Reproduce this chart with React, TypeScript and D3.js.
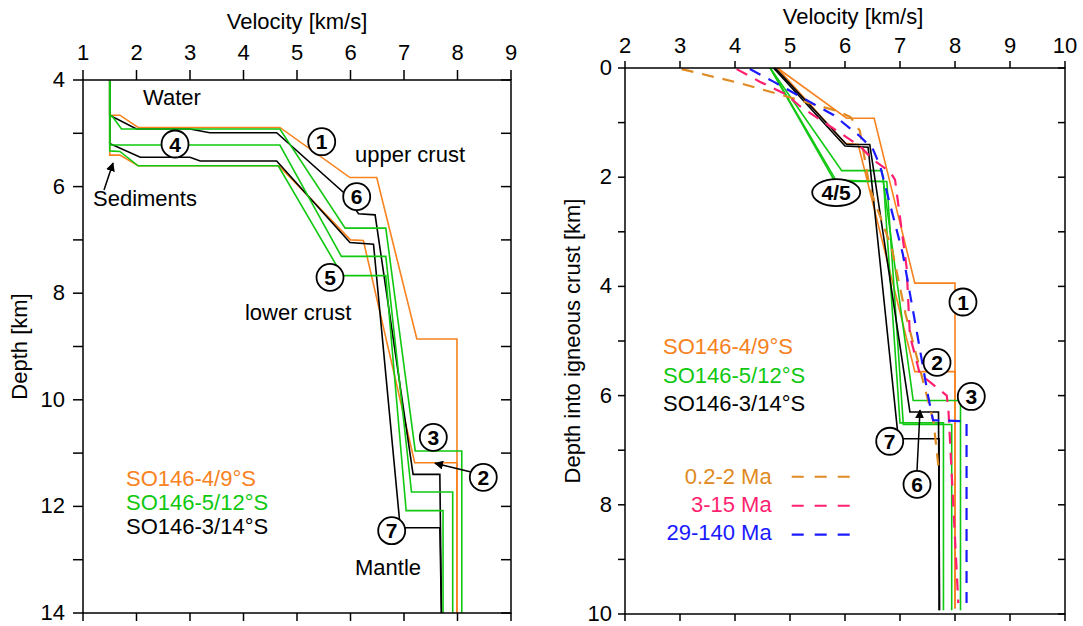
import React from 'react';
import * as d3 from 'd3';

type P = [number, number];

// ---------- Left panel: velocity (km/s) vs depth below sea level (km)
const leftVelTicks = [1, 2, 3, 4, 5, 6, 7, 8, 9];
const leftDepthTicks = [4, 6, 8, 10, 12, 14];
const leftDepthAllTicks = [4, 5, 6, 7, 8, 9, 10, 11, 12, 13, 14];

const leftOrangeA: P[] = [[1.5, 4], [1.5, 4.66], [1.69, 4.66], [2.03, 4.89], [4.68, 4.89], [5.99, 5.83], [6.49, 5.83], [7.24, 8.86], [7.99, 8.86], [7.99, 14]];
const leftOrangeB: P[] = [[1.5, 4], [1.5, 5.41], [1.69, 5.41], [2.03, 5.61], [4.66, 5.61], [6.0, 7.0], [6.24, 7.01], [7.2, 11.18], [7.99, 11.18], [7.99, 14]];
const leftGreenA: P[] = [[1.5, 4], [1.5, 4.67], [1.54, 4.67], [1.72, 4.92], [4.68, 4.92], [5.9, 6.78], [6.66, 6.78], [7.21, 10.96], [8.08, 10.96], [8.08, 14]];
const leftGreenB: P[] = [[1.5, 4], [1.5, 5.22], [4.68, 5.22], [5.83, 7.31], [6.66, 7.31], [7.14, 11.73], [7.91, 11.73], [7.91, 14]];
const leftGreenC: P[] = [[1.5, 4], [1.5, 5.33], [1.69, 5.34], [2.03, 5.61], [4.65, 5.61], [5.85, 7.67], [6.66, 7.67], [7.04, 12.08], [7.73, 12.08], [7.73, 14]];
const leftBlackA: P[] = [[1.5, 4], [1.5, 4.67], [1.52, 4.67], [2.0, 4.92], [3.0, 4.92], [3.37, 4.99], [4.62, 4.99], [5.87, 6.11], [6.15, 6.51], [6.46, 6.53], [7.17, 11.4], [7.67, 11.4], [7.7, 14]];
const leftBlackB: P[] = [[1.5, 4], [1.5, 5.2], [1.52, 5.2], [2.07, 5.45], [3.0, 5.45], [3.19, 5.52], [4.62, 5.52], [5.99, 7.05], [6.43, 7.08], [6.93, 12.4], [7.67, 12.4], [7.7, 14]];

// ---------- Right panel: velocity (km/s) vs depth into igneous crust (km)
const rightVelTicks = [2, 3, 4, 5, 6, 7, 8, 9, 10];
const rightDepthTicks = [0, 2, 4, 6, 8, 10];
const rightDepthAllTicks = [0, 1, 2, 3, 4, 5, 6, 7, 8, 9, 10];

const rightOrangeA: P[] = [[4.77, 0], [6.03, 0.92], [6.53, 0.92], [7.27, 3.94], [8.0, 3.94], [8.0, 9.9]];
const rightOrangeB: P[] = [[4.77, 0], [6.0, 1.38], [6.24, 1.4], [7.27, 5.56], [8.0, 5.56], [8.0, 9.9]];
const rightGreenA: P[] = [[4.64, 0], [5.94, 1.88], [6.67, 1.88], [7.24, 6.09], [8.1, 6.09], [8.1, 9.93]];
const rightGreenB: P[] = [[4.64, 0], [5.85, 2.08], [6.76, 2.08], [7.06, 6.53], [7.94, 6.53], [7.94, 9.93]];
const rightGreenC: P[] = [[4.64, 0], [5.8, 2.05], [6.7, 2.08], [7.0, 6.5], [7.79, 6.5], [7.79, 9.93]];
const rightBlackA: P[] = [[4.73, 0], [6.03, 1.4], [6.45, 1.4], [7.18, 6.3], [7.7, 6.3], [7.72, 9.93]];
const rightBlackB: P[] = [[4.7, 0], [6.0, 1.43], [6.42, 1.45], [6.97, 6.79], [7.71, 6.79], [7.71, 9.93]];

const age02to2: P[] = [[3.03, 0.02], [4.1, 0.28], [5.9, 0.8], [6.1, 0.9], [6.27, 1.15], [6.45, 2.2], [6.85, 3.3], [7.1, 4.5], [7.39, 5.62], [7.61, 6.48], [7.71, 7.4]];
const age3to15: P[] = [[4.03, 0.02], [4.45, 0.25], [4.94, 0.49], [5.18, 0.7], [6.27, 1.43], [6.51, 1.68], [6.82, 1.9], [6.91, 2.05], [7.12, 3.65], [7.18, 4.9], [7.36, 5.6], [7.85, 6.0], [7.88, 6.25], [8.06, 9.8]];
const age29to140: P[] = [[4.27, 0.02], [4.7, 0.25], [5.18, 0.52], [5.79, 0.86], [6.27, 1.25], [6.51, 1.49], [6.64, 1.8], [7.05, 3.4], [7.3, 4.8], [7.51, 6.0], [7.6, 6.45], [8.21, 6.47], [8.21, 9.8]];

const profileNames = ['SO146-4/9°S', 'SO146-5/12°S', 'SO146-3/14°S'];
const ageNames = ['0.2-2 Ma', '3-15 Ma', '29-140 Ma'];

const ORANGE = '#f7821e';
const GREEN = '#10c810';
const BLACK = '#000000';
const AGE_COLORS = ['#df8a22', '#ff1f70', '#1a1aff'];
const FONT = "'Liberation Sans', Arial, Helvetica, sans-serif";

function Circ({ x, y, label }: { x: number; y: number; label: string }) {
  return (
    <g>
      <circle cx={x} cy={y} r={13.5} fill="#fff" stroke="#000" strokeWidth={1.8} />
      <text x={x} y={y + 7.5} textAnchor="middle" fontSize={21} fontWeight="bold" fontFamily={FONT}>{label}</text>
    </g>
  );
}

export default function App() {
  const xL = d3.scaleLinear().domain([1, 9]).range([83, 511]);
  const yL = d3.scaleLinear().domain([4, 14]).range([80, 613]);
  const xR = d3.scaleLinear().domain([2, 10]).range([625, 1065]);
  const yR = d3.scaleLinear().domain([0, 10]).range([68, 614]);
  const lineL = d3.line<P>().x(d => xL(d[0])).y(d => yL(d[1]));
  const lineR = d3.line<P>().x(d => xR(d[0])).y(d => yR(d[1]));

  const L = { x0: xL(1), x1: xL(9), y0: yL(4), y1: yL(14) };
  const R = { x0: xR(2), x1: xR(10), y0: yR(0), y1: yR(10) };

  const solidW = 1.6;
  const leftLines: [P[], string][] = [
    [leftOrangeA, ORANGE], [leftOrangeB, ORANGE],
    [leftBlackA, BLACK], [leftBlackB, BLACK],
    [leftGreenA, GREEN], [leftGreenB, GREEN], [leftGreenC, GREEN],
  ];
  const rightLines: [P[], string][] = [
    [rightOrangeA, ORANGE], [rightOrangeB, ORANGE],
    [rightGreenA, GREEN], [rightGreenB, GREEN], [rightGreenC, GREEN],
    [rightBlackA, BLACK], [rightBlackB, BLACK],
  ];
  const ageLines: P[][] = [age02to2, age3to15, age29to140];
  const profColors = [ORANGE, GREEN, BLACK];

  return (
    <svg width={1083} height={626} style={{ position: 'absolute', left: 0, top: 0, background: '#fff' }} fontFamily={FONT}>
      <defs>
        <marker id="ah" viewBox="0 0 10 10" refX="9" refY="5" markerWidth="9" markerHeight="9" markerUnits="userSpaceOnUse" orient="auto">
          <path d="M0,0 L10,5 L0,10 z" fill="#000" />
        </marker>
      </defs>
      <rect x={0} y={0} width={1083} height={626} fill="#fff" />

      {/* ===== LEFT PANEL ===== */}
      <g>
        {leftLines.map(([d, c], i) => (
          <path key={i} d={lineL(d) || ''} fill="none" stroke={c} strokeWidth={solidW} strokeLinejoin="miter" />
        ))}
        <rect x={L.x0} y={L.y0} width={L.x1 - L.x0} height={L.y1 - L.y0} fill="none" stroke="#000" strokeWidth={1.5} />
        {leftVelTicks.map(t => (
          <g key={'lt' + t}>
            <line x1={xL(t)} x2={xL(t)} y1={L.y0} y2={L.y0 - 10} stroke="#000" strokeWidth={1.5} />
            <line x1={xL(t)} x2={xL(t)} y1={L.y1} y2={L.y1 + 8} stroke="#000" strokeWidth={1.5} />
            <text x={xL(t)} y={60} textAnchor="middle" fontSize={22}>{t}</text>
          </g>
        ))}
        {leftDepthAllTicks.map(t => (
          <g key={'ld' + t}>
            <line x1={L.x0} x2={L.x0 - 10} y1={yL(t)} y2={yL(t)} stroke="#000" strokeWidth={1.5} />
            <line x1={L.x1} x2={L.x1 - 10} y1={yL(t)} y2={yL(t)} stroke="#000" strokeWidth={1.5} />
          </g>
        ))}
        {leftDepthTicks.map(t => (
          <text key={'ldl' + t} x={65} y={yL(t) + 7} textAnchor="end" fontSize={22}>{t}</text>
        ))}
        <text x={(L.x0 + L.x1) / 2} y={29} textAnchor="middle" fontSize={22}>Velocity [km/s]</text>
        <text transform={`translate(27,${yL(9)}) rotate(-90)`} textAnchor="middle" fontSize={22}>Depth [km]</text>

        <text x={xL(2.121)} y={yL(4.469)} fontSize={22}>Water</text>
        <text x={xL(1.187)} y={yL(6.364)} fontSize={22}>Sediments</text>
        <line x1={xL(1.393)} y1={yL(6.064)} x2={xL(1.561)} y2={yL(5.557)} stroke="#000" strokeWidth={1.5} markerEnd="url(#ah)" />
        <text x={xL(6.084)} y={yL(5.538)} fontSize={22}>upper crust</text>
        <text x={xL(4.028)} y={yL(8.503)} fontSize={22}>lower crust</text>
        <text x={xL(6.084)} y={yL(13.287)} fontSize={22}>Mantle</text>
        <line x1={xL(8.234)} y1={yL(11.349)} x2={xL(7.579)} y2={yL(11.191)} stroke="#000" strokeWidth={1.5} markerEnd="url(#ah)" />
        <Circ x={xL(5.462)} y={yL(5.158)} label="1" />
        <Circ x={xL(8.482)} y={yL(11.454)} label="2" />
        <Circ x={xL(7.548)} y={yL(10.704)} label="3" />
        <Circ x={xL(2.72)} y={yL(5.201)} label="4" />
        <Circ x={xL(5.617)} y={yL(7.702)} label="5" />
        <Circ x={xL(6.116)} y={yL(6.189)} label="6" />
        <Circ x={xL(6.77)} y={yL(12.456)} label="7" />
        {profileNames.map((n, i) => (
          <text key={'lg' + i} x={xL(1.804)} y={yL(11.617 + i * 0.45)} fontSize={22} fill={profColors[i]}>{n}</text>
        ))}
      </g>

      {/* ===== RIGHT PANEL ===== */}
      <g>
        {rightLines.map(([d, c], i) => (
          <path key={i} d={lineR(d) || ''} fill="none" stroke={c} strokeWidth={solidW} />
        ))}
        {ageLines.map((d, i) => (
          <path key={'a' + i} d={lineR(d) || ''} fill="none" stroke={AGE_COLORS[i]} strokeWidth={2.2} strokeDasharray="12,9" />
        ))}
        <rect x={R.x0} y={R.y0} width={R.x1 - R.x0} height={R.y1 - R.y0} fill="none" stroke="#000" strokeWidth={1.5} />
        {rightVelTicks.map(t => (
          <g key={'rt' + t}>
            <line x1={xR(t)} x2={xR(t)} y1={R.y0} y2={R.y0 - 7} stroke="#000" strokeWidth={1.5} />
            <line x1={xR(t)} x2={xR(t)} y1={R.y1} y2={R.y1 + 7} stroke="#000" strokeWidth={1.5} />
            <text x={xR(t)} y={53} textAnchor="middle" fontSize={22}>{t}</text>
          </g>
        ))}
        {rightDepthAllTicks.map(t => (
          <g key={'rd' + t}>
            <line x1={R.x0} x2={R.x0 - 7} y1={yR(t)} y2={yR(t)} stroke="#000" strokeWidth={1.5} />
            <line x1={R.x1} x2={R.x1 - 7} y1={yR(t)} y2={yR(t)} stroke="#000" strokeWidth={1.5} />
          </g>
        ))}
        {rightDepthTicks.map(t => (
          <text key={'rdl' + t} x={612} y={yR(t) + 7} textAnchor="end" fontSize={22}>{t}</text>
        ))}
        <text x={853} y={24} textAnchor="middle" fontSize={22}>Velocity [km/s]</text>
        <text transform={`translate(580,${yR(5)}) rotate(-90)`} textAnchor="middle" fontSize={22}>Depth into igneous crust [km]</text>

        <ellipse cx={xR(5.84)} cy={yR(2.282)} rx={24} ry={13.5} fill="#fff" stroke="#000" strokeWidth={1.8} />
        <text x={xR(5.84)} y={yR(2.282) + 7.5} textAnchor="middle" fontSize={21} fontWeight="bold">4/5</text>
        <Circ x={xR(8.145)} y={yR(4.286)} label="1" />
        <Circ x={xR(7.673)} y={yR(5.392)} label="2" />
        <Circ x={xR(8.296)} y={yR(6.016)} label="3" />
        <Circ x={xR(6.813)} y={yR(6.836)} label="7" />
        <line x1={xR(7.309)} y1={yR(7.377)} x2={xR(7.364)} y2={yR(6.266)} stroke="#000" strokeWidth={1.5} markerEnd="url(#ah)" />
        <Circ x={xR(7.309)} y={yR(7.627)} label="6" />
        {profileNames.map((n, i) => (
          <text key={'rg' + i} x={xR(2.691)} y={yR(5.246 + i * 0.52)} fontSize={22} fill={profColors[i]}>{n}</text>
        ))}
        {ageNames.map((n, i) => (
          <g key={'ag' + i}>
            <text x={xR(4.667)} y={yR(7.627 + i * 0.513)} textAnchor="end" fontSize={22} fill={AGE_COLORS[i]}>{n}</text>
            <line x1={xR(5.031)} x2={xR(6.091)} y1={yR(7.486 + i * 0.531)} y2={yR(7.486 + i * 0.531)} stroke={AGE_COLORS[i]} strokeWidth={2.2} strokeDasharray="12,11" />
          </g>
        ))}
      </g>
    </svg>
  );
}
